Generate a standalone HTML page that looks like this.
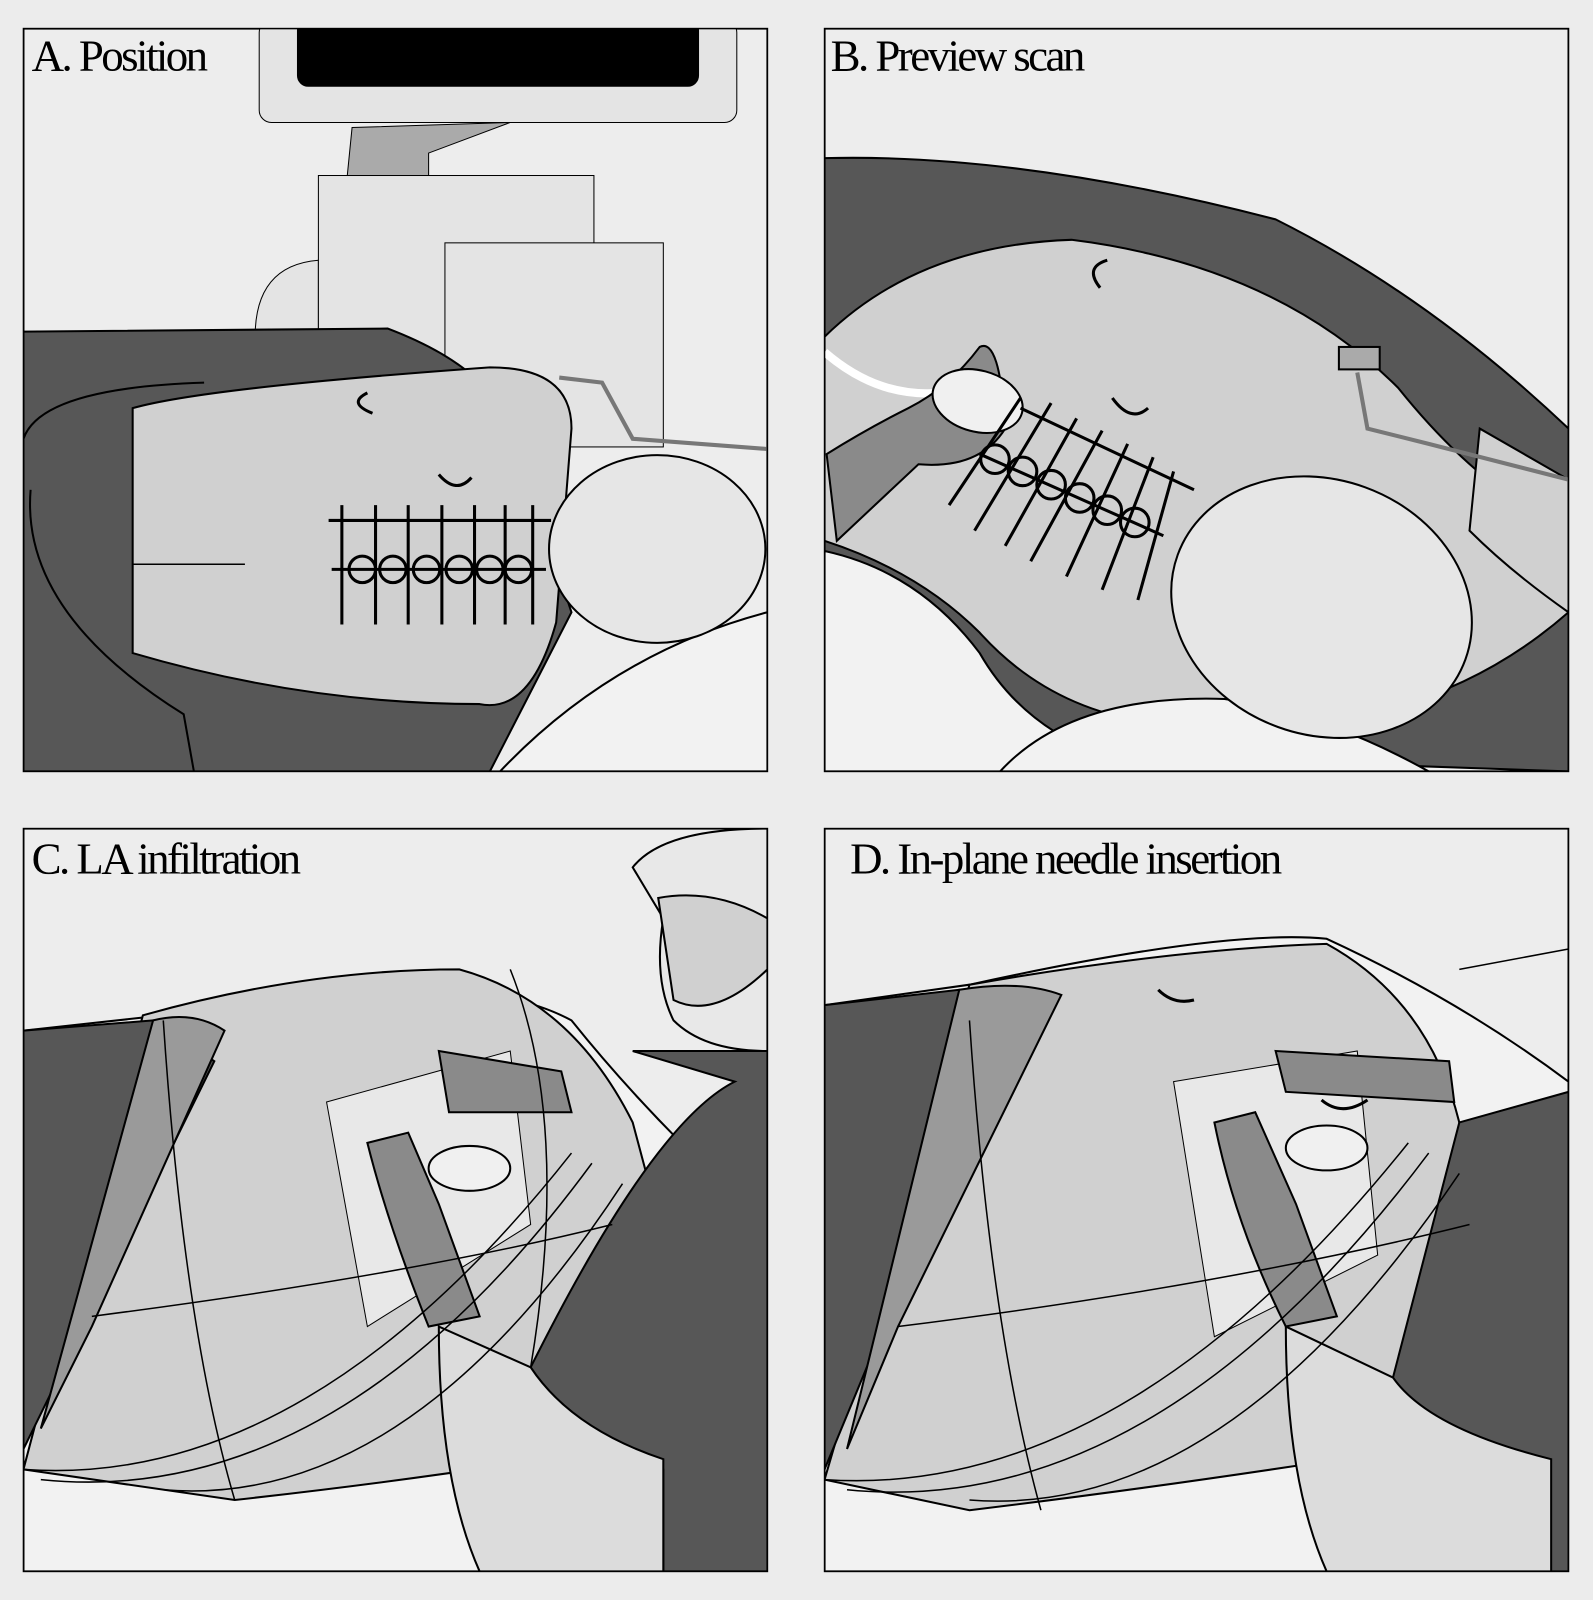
<!DOCTYPE html>
<html><head><meta charset="utf-8"><style>
html,body{margin:0;padding:0;background:#ececec;}
svg{display:block;}
text{font-family:"Liberation Serif",serif;font-size:44px;letter-spacing:-2.5px;fill:#000;}
</style></head><body>
<svg width="1593" height="1600" viewBox="0 0 1561 1568" preserveAspectRatio="none" xmlns="http://www.w3.org/2000/svg">
<rect width="1561" height="1568" fill="#ececec"/>
<defs>
<clipPath id="ca"><rect x="23" y="28" width="729" height="728"/></clipPath>
<clipPath id="cb"><rect x="808" y="28" width="729" height="728"/></clipPath>
<clipPath id="cc"><rect x="23" y="812" width="729" height="728"/></clipPath>
<clipPath id="cd"><rect x="808" y="812" width="729" height="728"/></clipPath>
</defs>
<g stroke="#000" stroke-width="2">
<!-- Panel A -->
<g clip-path="url(#ca)">
<rect x="23" y="28" width="729" height="728" fill="#ededed"/>
<rect x="254" y="20" width="468" height="100" rx="12" fill="#e4e4e4" stroke-width="1"/>
<rect x="292" y="20" width="392" height="64" rx="10" fill="#000"/>
<path d="M345 125 L500 120 L420 150 L420 175 L340 175Z" fill="#aaa" stroke-width="1"/>
<path d="M250 330 Q250 260 312 255 L312 330Z" fill="#e4e4e4" stroke-width="1"/>
<rect x="312" y="172" width="270" height="180" fill="#e4e4e4" stroke-width="1"/>
<rect x="436" y="238" width="214" height="200" fill="#e4e4e4" stroke-width="1"/>
<path d="M23 325 L380 322 Q480 360 500 420 L560 600 L480 756 L23 756Z" fill="#575757"/>
<path d="M130 400 Q200 380 480 360 Q560 360 560 420 L545 610 Q520 700 470 690 Q300 690 130 640Z" fill="#d0d0d0"/>
<path d="M23 430 Q40 380 200 375" fill="none"/>
<path d="M30 480 Q20 600 180 700 L190 756" fill="none"/>
<path d="M490 756 Q600 640 752 600 L752 756Z" fill="#f2f2f2"/>
<ellipse cx="644" cy="538" rx="106" ry="92" fill="#e6e6e6"/>
<path d="M548 370 L590 375 L620 430 L752 440" fill="none" stroke="#777" stroke-width="4"/>
<path d="M322 510 L540 510 M325 558 L535 558" fill="none" stroke-width="3"/>
<path d="M335 495 V612 M368 495V612 M400 495V612 M433 495V612 M465 495V612 M495 495V612 M522 495V612" fill="none" stroke-width="3"/>
<g fill="none" stroke-width="3"><circle cx="355" cy="558" r="13"/><circle cx="385" cy="558" r="13"/><circle cx="418" cy="558" r="13"/><circle cx="450" cy="558" r="13"/><circle cx="480" cy="558" r="13"/><circle cx="508" cy="558" r="13"/></g>
<path d="M430 465 Q447 485 462 468 M360 385 Q340 395 365 405" fill="none" stroke-width="3"/>
<path d="M130 553 L240 553" fill="none" stroke-width="1.5"/>
</g>
<rect x="23" y="28" width="729" height="728" fill="none" stroke-width="1.5"/>
<text x="31" y="69" stroke="none">A. Position</text>

<!-- Panel B -->
<g clip-path="url(#cb)">
<rect x="808" y="28" width="729" height="728" fill="#ededed"/>
<path d="M808 155 Q1000 150 1250 215 Q1400 290 1537 420 L1537 756 L808 756Z" fill="#575757"/>
<path d="M808 330 Q900 240 1050 235 Q1250 260 1370 380 Q1450 480 1537 520 L1537 600 Q1400 720 1200 710 Q1050 720 960 620 Q900 560 808 530Z" fill="#d0d0d0"/>
<path d="M808 540 Q900 560 960 640 Q1000 710 1080 740 L1537 756 L808 756Z" fill="#f2f2f2"/>
<path d="M980 756 Q1050 680 1200 685 Q1300 700 1400 756Z" fill="#f2f2f2"/>
<path d="M1450 420 L1537 470 L1537 600 Q1480 560 1440 520Z" fill="#d0d0d0"/>
<ellipse cx="1295" cy="595" rx="150" ry="125" fill="#e6e6e6" transform="rotate(20 1295 595)"/>
<path d="M808 345 Q860 390 920 385" fill="none" stroke="#fff" stroke-width="8"/>
<path d="M810 445 Q850 420 890 400 Q930 380 960 340 Q980 330 985 420 Q960 460 900 455 L820 530Z" fill="#8a8a8a"/>
<ellipse cx="958" cy="393" rx="45" ry="30" fill="#f0f0f0" transform="rotate(15 958 393)"/>
<path d="M1330 365 L1340 420 L1400 435 L1537 470" fill="none" stroke="#777" stroke-width="4"/>
<rect x="1312" y="340" width="40" height="22" fill="#aaa"/>
<g fill="none" stroke-width="3">
<path d="M1000 400 L1170 480 M960 445 L1140 525"/>
<path d="M1000 390 L930 495 M1030 395 L955 520 M1055 410 L985 535 M1080 422 L1010 550 M1105 435 L1045 565 M1130 448 L1080 578 M1150 462 L1115 588"/>
<circle cx="975" cy="450" r="14"/><circle cx="1002" cy="462" r="14"/><circle cx="1030" cy="475" r="14"/><circle cx="1058" cy="488" r="14"/><circle cx="1085" cy="500" r="14"/><circle cx="1112" cy="512" r="14"/>
<path d="M1090 390 Q1108 415 1125 400 M1085 255 Q1062 262 1078 282"/>
</g>
</g>
<rect x="808" y="28" width="729" height="728" fill="none" stroke-width="1.5"/>
<text x="814" y="69" stroke="none">B. Preview scan</text>

<!-- Panel C -->
<g clip-path="url(#cc)">
<rect x="23" y="812" width="729" height="728" fill="#ededed"/>
<path d="M23 1010 L160 995 Q450 940 560 1000 Q640 1100 752 1200 L752 1540 L23 1540Z" fill="#f2f2f2"/>
<path d="M140 995 Q300 950 450 950 Q560 980 620 1100 L700 1400 Q500 1440 230 1470 L23 1440Z" fill="#d0d0d0"/>
<path d="M23 1010 L150 1000 L210 1040 L23 1420Z" fill="#575757"/>
<path d="M150 1000 Q190 990 220 1010 L90 1300 L40 1400 Z" fill="#9a9a9a"/>
<path d="M320 1080 L500 1030 L520 1200 L360 1300Z" fill="#e8e8e8" stroke-width="1"/>
<path d="M620 1030 L752 1030 L752 1540 L650 1540 L650 1440 Q560 1400 520 1340 Q640 1100 720 1060Z" fill="#575757"/>
<path d="M430 1300 Q430 1450 470 1540 L650 1540 L650 1430 Q560 1400 520 1340Z" fill="#dcdcdc"/>
<path d="M620 850 Q650 812 752 812 L752 1030 Q690 1030 660 1000 Q640 960 650 900Z" fill="#e8e8e8"/>
<path d="M645 880 Q700 870 752 900 L752 950 Q700 1000 660 980Z" fill="#d0d0d0"/>
<path d="M360 1120 Q380 1200 420 1300 L470 1290 L430 1180 L400 1110Z" fill="#8a8a8a"/>
<path d="M430 1030 L550 1050 L560 1090 L440 1090Z" fill="#8a8a8a"/>
<ellipse cx="460" cy="1145" rx="40" ry="22" fill="#f0f0f0"/>
<g fill="none" stroke-width="1.5"><path d="M23 1440 Q300 1460 560 1130"/><path d="M40 1450 Q330 1480 580 1140"/><path d="M160 1460 Q400 1480 610 1160"/><path d="M90 1290 Q400 1250 600 1200"/><path d="M160 1000 Q180 1300 230 1470"/><path d="M500 950 Q560 1100 520 1340"/></g>
</g>
<rect x="23" y="812" width="729" height="728" fill="none" stroke-width="1.5"/>
<text x="31" y="856" stroke="none">C. LA infiltration</text>

<!-- Panel D -->
<g clip-path="url(#cd)">
<rect x="808" y="812" width="729" height="728" fill="#ededed"/>
<path d="M808 985 L950 965 Q1200 910 1300 920 Q1430 980 1537 1060 L1537 1540 L808 1540Z" fill="#f2f2f2"/>
<path d="M950 965 Q1150 930 1300 925 Q1400 980 1430 1100 L1500 1400 Q1200 1450 950 1480 L808 1450Z" fill="#d0d0d0"/>
<path d="M808 985 L940 970 L990 1000 L808 1440Z" fill="#575757"/>
<path d="M940 970 Q1000 960 1040 975 L880 1300 L830 1420Z" fill="#9a9a9a"/>
<path d="M1150 1060 L1330 1030 L1350 1230 L1190 1310Z" fill="#e8e8e8" stroke-width="1"/>
<path d="M1430 1100 L1537 1070 L1537 1540 L1520 1540 Q1400 1400 1365 1350Z" fill="#575757"/>
<path d="M1260 1300 Q1260 1450 1300 1540 L1520 1540 L1520 1430 Q1400 1400 1365 1350Z" fill="#dcdcdc"/>
<path d="M1190 1100 Q1210 1200 1260 1300 L1310 1290 L1270 1180 L1230 1090Z" fill="#8a8a8a"/>
<path d="M1250 1030 L1420 1040 L1425 1080 L1260 1070Z" fill="#8a8a8a"/>
<ellipse cx="1300" cy="1125" rx="40" ry="22" fill="#f0f0f0"/>
<g fill="none" stroke-width="1.5"><path d="M808 1450 Q1100 1470 1380 1120"/><path d="M830 1460 Q1130 1490 1400 1130"/><path d="M950 1470 Q1200 1490 1430 1150"/><path d="M880 1300 Q1200 1260 1440 1200"/><path d="M950 1000 Q970 1300 1020 1480"/><path d="M1430 950 L1537 930"/></g>
<path d="M1135 970 Q1150 985 1170 980 M1295 1078 Q1315 1095 1340 1078" fill="none" stroke-width="3"/>
</g>
<rect x="808" y="812" width="729" height="728" fill="none" stroke-width="1.5"/>
<text x="833" y="856" stroke="none">D. In-plane needle insertion</text>
</g>
</svg>
</body></html>
